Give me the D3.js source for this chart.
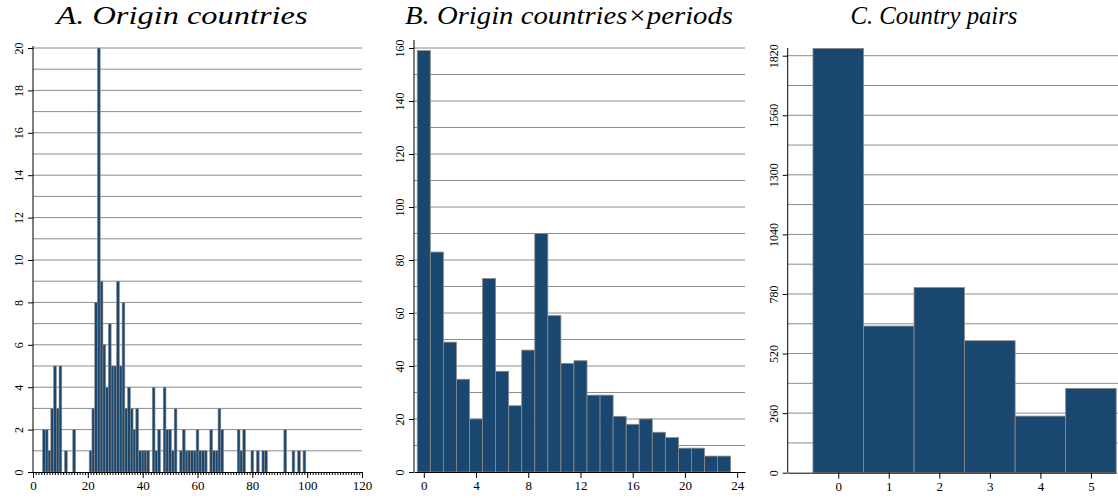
<!DOCTYPE html>
<html>
<head>
<meta charset="utf-8">
<script src="https://cdn.jsdelivr.net/npm/d3@7"></script>
<style>
  body { margin: 0; background: #fff; }
</style>
</head>
<body>
<div id="drawingArea"></div>
<script>
// A. origin countries: value -> frequency
var originVals   = [4,5,6,7,8,9,10,12,15,
                    21,22,23,24,25,26,27,28,29,30,31,32,33,34,35,36,37,38,39,40,41,42,
                    44,45,46,48,49,50,51,52,
                    54,55,56,57,58,59,60,61,62,63,
                    65,66,67,68,69,
                    75,76,77,80,82,84,85,92,95,97,99];
var originCounts = [2,2,1,3,5,3,5,1,2,
                    1,3,8,20,9,6,4,7,5,5,9,5,8,3,4,3,2,3,1,1,1,1,
                    4,1,2,4,2,2,1,3,
                    1,2,1,1,1,1,2,1,1,1,
                    2,1,1,3,2,
                    2,1,2,1,1,1,1,2,1,1,1];

// B. origin countries x periods
var periodVals   = [0,1,2,3,4,5,6,7,8,9,10,11,12,13,14,15,16,17,18,19,20,21,22,23];
var periodCounts = [159,83,49,35,20,73,38,25,46,90,59,41,42,29,29,21,18,20,15,13,9,9,6,6];

// C. country pairs
var pairVals   = [0,1,2,3,4,5];
var pairCounts = [1852,640,808,576,247,368];

// ticks
var aXTicks = [0,20,40,60,80,100,120];
var aYTicks = [0,2,4,6,8,10,12,14,16,18,20];
var bXTicks = [0,4,8,12,16,20,24];
var bYTicks = [0,20,40,60,80,100,120,140,160];
var cXTicks = [0,1,2,3,4,5];
var cYTicks = [0,260,520,780,1040,1300,1560,1820];

var titles = ["A. Origin countries", "B. Origin countries\u00d7periods", "C. Country pairs"];

var navy = "#1a476f";
var outline = "#8a8a8a";
var gridColor = "#8c8c8c";
var serif = "Liberation Serif";

var svg = d3.select("#drawingArea").append("svg")
    .attr("width", 1118)
    .attr("height", 498);

function drawPanel(p) {
    var x = d3.scaleLinear().domain(p.xDomain).range([p.left, p.right]);
    var y = d3.scaleLinear().domain([0, p.yTop]).range([p.bottom, p.yTopPx]);

    var g = svg.append("g");

    // gridlines
    g.append("g")
        .selectAll("line")
        .data(p.grid)
        .enter().append("line")
        .attr("x1", p.left).attr("x2", p.gridRight)
        .attr("y1", function(d) { return y(d); })
        .attr("y2", function(d) { return y(d); })
        .attr("stroke", gridColor)
        .attr("stroke-width", 1);

    // bars
    g.append("g")
        .selectAll("rect")
        .data(p.vals)
        .enter().append("rect")
        .attr("x", function(d) { return x(d - 0.5); })
        .attr("width", function(d) { return x(d + 0.5) - x(d - 0.5); })
        .attr("y", function(d, i) { return y(p.counts[i]); })
        .attr("height", function(d, i) { return y(0) - y(p.counts[i]); })
        .attr("fill", navy)
        .attr("stroke", outline)
        .attr("stroke-width", p.barStroke);

    // minor x ticks
    if (p.minor) {
        g.append("g")
            .attr("transform", "translate(0," + p.bottom + ")")
            .call(d3.axisBottom(x).tickValues(p.minor).tickSize(3).tickFormat(""))
            .call(function(a) { a.select(".domain").remove(); });
    }

    // x axis
    var xa = g.append("g")
        .attr("transform", "translate(0," + p.bottom + ")")
        .call(d3.axisBottom(x).tickValues(p.xTicks).tickSize(6).tickSizeOuter(0)
            .tickPadding(3).tickFormat(d3.format("d")));
    xa.attr("font-family", serif);
    xa.selectAll("text")
        .style("font-family", serif)
        .style("font-size", "13px")
        .attr("fill", "#000");
    xa.select(".domain").attr("stroke", "#000");

    // y axis
    var ya = g.append("g")
        .attr("transform", "translate(" + p.left + ",0)")
        .call(d3.axisLeft(y).tickValues(p.yTicks).tickSize(5).tickSizeOuter(0).tickFormat(d3.format("d")));
    ya.attr("font-family", serif);
    ya.select(".domain").attr("d", "M0," + p.bottom + "V" + p.axisTop).attr("stroke", "#000");
    ya.selectAll("text")
        .attr("x", null).attr("dy", null)
        .attr("transform", "translate(-10,0) rotate(-90)")
        .style("text-anchor", "middle")
        .style("font-family", serif)
        .style("font-size", "12px")
        .attr("fill", "#000");

    // panel title
    svg.append("text")
        .attr("x", p.titleX)
        .attr("y", 24)
        .attr("text-anchor", "middle")
        .attr("textLength", p.titleW)
        .attr("lengthAdjust", "spacingAndGlyphs")
        .style("font-family", serif)
        .style("font-style", "italic")
        .style("font-size", "25px")
        .text(p.title);
}

drawPanel({
    vals: originVals, counts: originCounts,
    xDomain: [0, 120], left: 33, right: 362, gridRight: 362,
    yTop: 20, bottom: 472, yTopPx: 48, axisTop: 46,
    grid: d3.range(1, 21), yTicks: aYTicks, xTicks: aXTicks,
    minor: d3.range(0, 121), barStroke: 0.6,
    title: titles[0], titleX: 182, titleW: 251
});

drawPanel({
    vals: periodVals, counts: periodCounts,
    xDomain: [-0.75, 24.6], left: 414, right: 745, gridRight: 745,
    yTop: 160, bottom: 472, yTopPx: 48, axisTop: 40,
    grid: d3.range(10, 161, 10), yTicks: bYTicks, xTicks: bXTicks,
    minor: null, barStroke: 0.8,
    title: titles[1], titleX: 569, titleW: 328
});

drawPanel({
    vals: pairVals, counts: pairCounts,
    xDomain: [-1, 5.5], left: 787.7, right: 1116.2, gridRight: 1118,
    yTop: 1820, bottom: 472.7, yTopPx: 55.7, axisTop: 48,
    grid: d3.range(130, 1821, 130), yTicks: cYTicks, xTicks: cXTicks,
    minor: null, barStroke: 0.8,
    title: titles[2], titleX: 934, titleW: 167
});
</script>
</body>
</html>
